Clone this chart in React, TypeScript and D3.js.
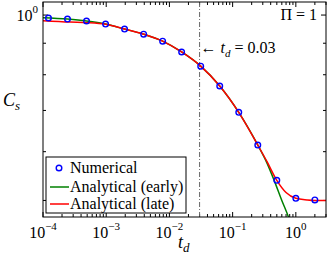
import React from "react";
import * as d3 from "d3";

// numerical solution (blue circles)
const numT = [1.22e-4, 2.44e-4, 4.88e-4, 9.77e-4, 1.95e-3, 3.91e-3, 7.81e-3, 0.0156, 0.03125, 0.0625, 0.125, 0.25, 0.5, 1, 2];
const numC = [0.989, 0.985, 0.978, 0.967, 0.949, 0.931, 0.907, 0.871, 0.826, 0.767, 0.695, 0.615, 0.539, 0.504, 0.501];

// analytical, early time (green)
const earlyT = [1e-4, 2.44e-4, 4.88e-4, 9.77e-4, 1.95e-3, 3.91e-3, 7.81e-3, 0.0156, 0.03125, 0.0625, 0.125, 0.25, 0.35, 0.46, 0.6, 0.77, 0.85];
const earlyC = [0.990, 0.985, 0.978, 0.967, 0.949, 0.931, 0.907, 0.871, 0.826, 0.767, 0.695, 0.615, 0.575, 0.537, 0.500, 0.469, 0.455];

// analytical, late time (red)
const lateT = [1e-4, 2.7e-4, 5e-4, 9.77e-4, 1.95e-3, 3.91e-3, 7.81e-3, 0.0156, 0.03125, 0.0625, 0.125, 0.25, 0.35, 0.5, 0.7, 1, 1.5, 2, 3];
const lateC = [0.979, 0.974, 0.972, 0.966, 0.949, 0.931, 0.907, 0.871, 0.826, 0.767, 0.695, 0.615, 0.578, 0.539, 0.515, 0.504, 0.501, 0.5, 0.5];

const xMajor = [-4, -3, -2, -1, 0];
const yMinor = [0.5, 0.6, 0.7, 0.8, 0.9];
const tdMark = 0.03;

const W = 329, H = 256;
const L = 43, R = 326, T = 2, B = 217;
const serif = "'Liberation Serif', 'Times New Roman', Times, serif";

const App = () => {
  const x = d3.scaleLog().domain([1e-4, 3]).range([L, R]);
  const y = d3.scaleLog().domain([0.47, 1.05]).range([B, T]);

  const line = d3.line<[number, number]>()
    .x(d => x(d[0]))
    .y(d => y(d[1]))
    .curve(d3.curveMonotoneX);

  const early = line(earlyT.map((t, i) => [t, earlyC[i]])) || "";
  const late = line(lateT.map((t, i) => [t, lateC[i]])) || "";

  // x ticks: majors at decades, minors 2..9
  const xMinor: number[] = [];
  for (let e = -4; e <= 0; e++) {
    for (let m = 2; m <= 9; m++) {
      const v = m * Math.pow(10, e);
      if (v <= 3) xMinor.push(v);
    }
  }

  return (
    <svg width={W} height={H} style={{ position: "absolute", left: 0, top: 0, background: "#fff", fontFamily: serif }}>
      <defs>
        <clipPath id="plot">
          <rect x={L} y={T} width={R - L} height={B - T} />
        </clipPath>
      </defs>
      <rect x={0} y={0} width={W} height={H} fill="#fff" />

      {/* ticks */}
      {xMajor.map(e => {
        const px = x(Math.pow(10, e));
        return (
          <g key={"xm" + e}>
            <line x1={px} x2={px} y1={B} y2={B - 5} stroke="#000" />
            <line x1={px} x2={px} y1={T} y2={T + 5} stroke="#000" />
            <text x={px} y={238} fontSize={16} textAnchor="middle">
              10<tspan fontSize={11} dy={-8}>{e < 0 ? "\u2212" + -e : e}</tspan>
            </text>
          </g>
        );
      })}
      {xMinor.map((v, i) => (
        <g key={"xn" + i}>
          <line x1={x(v)} x2={x(v)} y1={B} y2={B - 3} stroke="#000" />
          <line x1={x(v)} x2={x(v)} y1={T} y2={T + 3} stroke="#000" />
        </g>
      ))}
      <line x1={L} x2={L + 5} y1={y(1)} y2={y(1)} stroke="#000" />
      <line x1={R} x2={R - 5} y1={y(1)} y2={y(1)} stroke="#000" />
      {yMinor.map(v => (
        <g key={"yn" + v}>
          <line x1={L} x2={L + 3} y1={y(v)} y2={y(v)} stroke="#000" />
          <line x1={R} x2={R - 3} y1={y(v)} y2={y(v)} stroke="#000" />
        </g>
      ))}
      <text x={L - 5} y={y(1) + 6} fontSize={16} textAnchor="end">
        10<tspan fontSize={11} dy={-8}>0</tspan>
      </text>

      {/* t_d marker */}
      <line x1={x(tdMark)} x2={x(tdMark)} y1={T} y2={B} stroke="#666" strokeWidth={1}
        strokeDasharray="5,2,1,2" />
      <text x={x(tdMark) + 1} y={53} fontSize={16}>
        ← <tspan fontStyle="italic">t</tspan><tspan fontSize={11} fontStyle="italic" dy={4}>d</tspan><tspan dy={-4}> = 0.03</tspan>
      </text>
      <text x={R - 9} y={20} fontSize={16} textAnchor="end">Π = 1</text>

      {/* curves */}
      <g clipPath="url(#plot)">
        <path d={early} fill="none" stroke="#008000" strokeWidth={1.5} />
        <path d={late} fill="none" stroke="#ff0000" strokeWidth={1.5} />
        {numT.map((t, i) => (
          <circle key={i} cx={x(t)} cy={y(numC[i])} r={2.8} fill="none" stroke="#0000ff" strokeWidth={1.4} />
        ))}
      </g>

      {/* frame */}
      <rect x={L} y={T} width={R - L} height={B - T} fill="none" stroke="#000" strokeWidth={1} />

      {/* legend */}
      <rect x={46} y={157} width={140} height={56} fill="#fff" stroke="#000" strokeWidth={1} />
      <circle cx={59} cy={168} r={2.8} fill="none" stroke="#0000ff" strokeWidth={1.4} />
      <text x={70} y={173} fontSize={16}>Numerical</text>
      <line x1={50} x2={69} y1={187} y2={187} stroke="#008000" strokeWidth={1.5} />
      <text x={70} y={192} fontSize={16}>Analytical (early)</text>
      <line x1={50} x2={69} y1={204} y2={204} stroke="#ff0000" strokeWidth={1.5} />
      <text x={70} y={209} fontSize={16}>Analytical (late)</text>

      {/* axis labels */}
      <text x={3} y={106} fontSize={18} fontStyle="italic">
        C<tspan fontSize={13} dy={4}>s</tspan>
      </text>
      <text x={178} y={248} fontSize={18} fontStyle="italic">
        t<tspan fontSize={13} dy={4}>d</tspan>
      </text>
    </svg>
  );
};

export default App;
